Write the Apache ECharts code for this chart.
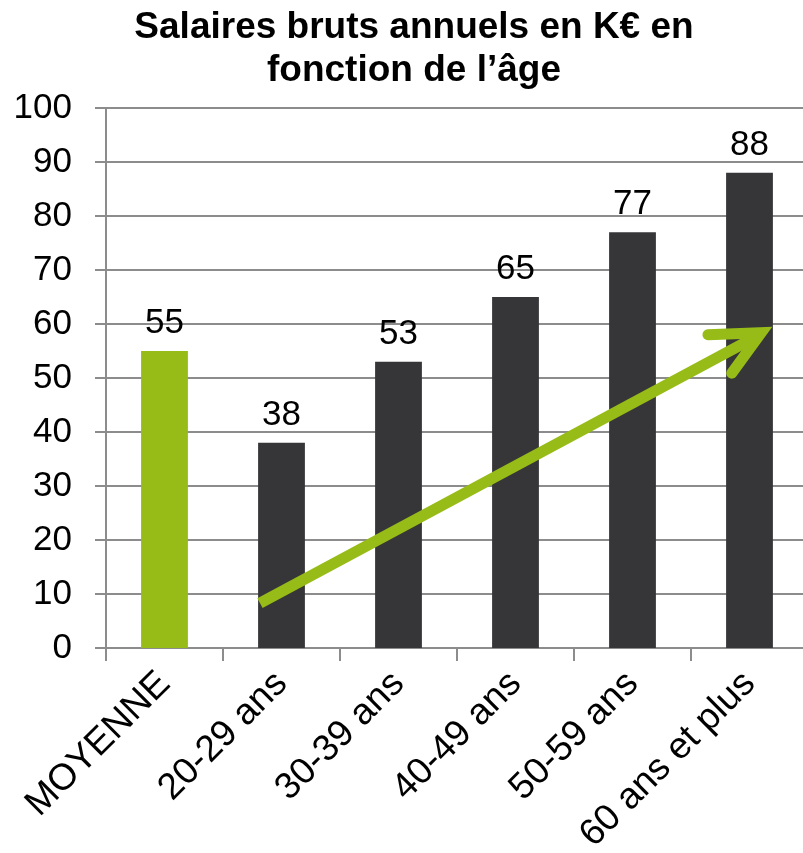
<!DOCTYPE html>
<html>
<head>
<meta charset="utf-8">
<title>Salaires bruts annuels</title>
<script src="https://cdn.jsdelivr.net/npm/echarts@6/dist/echarts.min.js"></script>
<style>
  html, body { margin: 0; padding: 0; background: #fff; }
  #chart { width: 803px; height: 853px; }
</style>
</head>
<body>
<div id="chart"></div>
<script>
const categories = ['MOYENNE', '20-29 ans', '30-39 ans', '40-49 ans', '50-59 ans', '60 ans et plus']
const salaires = [55, 38, 53, 65, 77, 88]
const yTicks = [0, 10, 20, 30, 40, 50, 60, 70, 80, 90, 100]

// trend arrow, in [category position, value] units
const arrowShaft = [[1.316, 8.3], [5.57, 57.8]]
const arrowHead = [[5.145, 58.0], [5.60, 58.4], [5.348, 50.9]]

const GREEN = '#97bc17'
const DARK = '#363638'
const GRID = '#8c8c8c'
const FONT = '"Liberation Sans", Arial, sans-serif'

const chart = echarts.init(document.getElementById('chart'))

const option = {
  animation: false,
  title: {
    text: 'Salaires bruts annuels en K€ en\nfonction de l’âge',
    left: 409,
    top: 1,
    textAlign: 'center',
    textStyle: {
      fontFamily: FONT,
      fontSize: 37,
      fontWeight: 'bold',
      color: '#000',
      lineHeight: 43
    }
  },
  grid: {
    left: 106,
    width: 702,
    top: 108,
    bottom: 205,
    outerBoundsMode: 'none'
  },
  xAxis: [
    {
      type: 'category',
      data: categories,
      axisLine: { lineStyle: { color: GRID, width: 2 } },
      axisTick: { show: true, length: 13, lineStyle: { color: GRID, width: 2 } },
      axisLabel: {
        rotate: 45,
        interval: 0,
        margin: 30,
        color: '#000',
        fontFamily: FONT,
        fontSize: 37
      }
    },
    {
      type: 'value',
      min: 0,
      max: 6,
      show: false
    }
  ],
  yAxis: {
    type: 'value',
    min: yTicks[0],
    max: yTicks[yTicks.length - 1],
    interval: 10,
    axisLine: { show: true, lineStyle: { color: GRID, width: 2 } },
    axisTick: { show: true, length: 11, lineStyle: { color: GRID, width: 2 } },
    splitLine: { lineStyle: { color: GRID, width: 2 } },
    axisLabel: {
      margin: 34,
      color: '#000',
      fontFamily: FONT,
      fontSize: 35
    }
  },
  series: [
    {
      type: 'bar',
      data: salaires.map((v, i) => ({
        value: v,
        itemStyle: { color: i === 0 ? GREEN : DARK }
      })),
      barWidth: '40%',
      label: {
        show: true,
        position: 'top',
        distance: 10,
        color: '#000',
        fontFamily: FONT,
        fontSize: 35
      }
    },
    {
      type: 'line',
      xAxisIndex: 1,
      data: arrowShaft,
      symbol: 'none',
      silent: true,
      z: 5,
      lineStyle: { color: GREEN, width: 11, cap: 'butt' }
    },
    {
      type: 'line',
      xAxisIndex: 1,
      data: arrowHead,
      symbol: 'none',
      silent: true,
      z: 5,
      lineStyle: { color: GREEN, width: 11, cap: 'round', join: 'miter' }
    }
  ]
}

chart.setOption(option)
</script>
</body>
</html>
